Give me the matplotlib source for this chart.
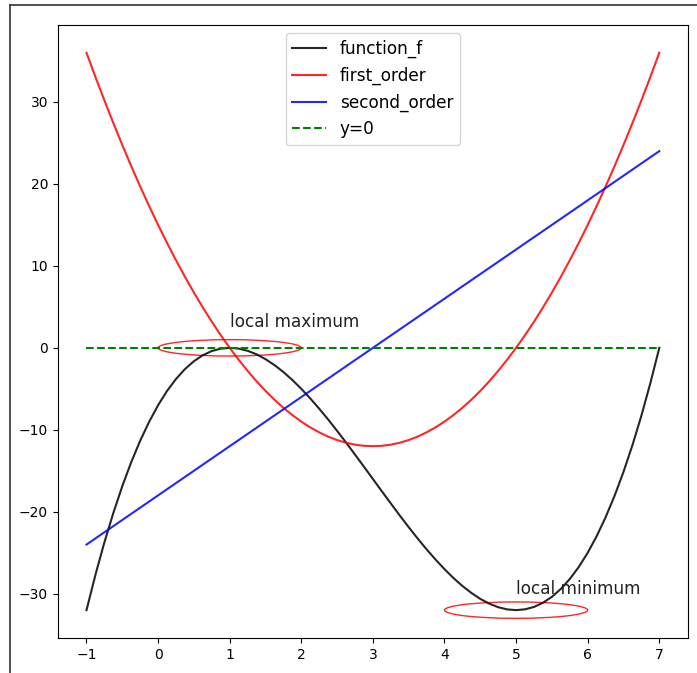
import matplotlib.pyplot as plt
import matplotlib.patches as mpatches
from matplotlib.lines import Line2D

# valeurs lues sur la figure, pas de 0.125
x = [-1, -0.875, -0.75, -0.625, -0.5, -0.375, -0.25, -0.125, 0, 0.125, 0.25, 0.375, 0.5, 0.625,
     0.75, 0.875, 1, 1.125, 1.25, 1.375, 1.5, 1.625, 1.75, 1.875, 2, 2.125, 2.25, 2.375, 2.5,
     2.625, 2.75, 2.875, 3, 3.125, 3.25, 3.375, 3.5, 3.625, 3.75, 3.875, 4, 4.125, 4.25, 4.375,
     4.5, 4.625, 4.75, 4.875, 5, 5.125, 5.25, 5.375, 5.5, 5.625, 5.75, 5.875, 6, 6.125, 6.25,
     6.375, 6.5, 6.625, 6.75, 6.875, 7]
function_f = [-32, -27.69, -23.73, -20.14, -16.88, -13.94, -11.33, -9.02, -7, -5.26, -3.8, -2.59,
              -1.63, -0.9, -0.39, -0.1, 0, -0.09, -0.36, -0.79, -1.38, -2.1, -2.95, -3.92, -5,
              -6.17, -7.42, -8.74, -10.13, -11.55, -13.02, -14.5, -16, -17.5, -18.98, -20.45,
              -21.88, -23.26, -24.58, -25.83, -27, -28.08, -29.05, -29.9, -30.63, -31.21, -31.64,
              -31.91, -32, -31.9, -31.61, -31.1, -30.38, -29.41, -28.2, -26.74, -25, -22.98,
              -20.67, -18.06, -15.13, -11.87, -8.27, -4.31, 0]
first_order = [36, 33.05, 30.19, 27.42, 24.75, 22.17, 19.69, 17.3, 15, 12.8, 10.69, 8.67, 6.75,
               4.92, 3.19, 1.55, 0, -1.45, -2.81, -4.08, -5.25, -6.33, -7.31, -8.2, -9, -9.7,
               -10.31, -10.83, -11.25, -11.58, -11.81, -11.95, -12, -11.95, -11.81, -11.58,
               -11.25, -10.83, -10.31, -9.7, -9, -8.2, -7.31, -6.33, -5.25, -4.08, -2.81, -1.45,
               0, 1.55, 3.19, 4.92, 6.75, 8.67, 10.69, 12.8, 15, 17.3, 19.69, 22.17, 24.75,
               27.42, 30.19, 33.05, 36]
second_x = [-1, 7]
second_order = [-24, 24]
zero_x = [-1, 7]
zero_y = [0, 0]

# extrema
extrema = [(1, 0), (5, -32)]
labels_extrema = ["local maximum", "local minimum"]
labels_pos = [(1, 2.5), (5, -30)]

fig, ax = plt.subplots(figsize=(6.97, 6.73), dpi=100)
fig.subplots_adjust(left=0.083, right=0.987, top=0.963, bottom=0.052)

ax.plot(x, function_f, color='black', alpha=0.85, label='function_f')
ax.plot(x, first_order, color='red', alpha=0.85, label='first_order')
ax.plot(second_x, second_order, color='blue', alpha=0.85, label='second_order')
ax.plot(zero_x, zero_y, 'g--', label='y=0')

for (cx, cy), lab, (tx, ty) in zip(extrema, labels_extrema, labels_pos):
    # add_artist : les ellipses ne changent pas les limites
    ax.add_artist(mpatches.Ellipse((cx, cy), 2, 2, fill=False, edgecolor='red', alpha=0.85))
    ax.text(tx, ty, lab, fontsize=12.2, color='#222222')

ax.legend(loc='upper center', fontsize=12.2)

# cadre de la sortie
fig.add_artist(Line2D([0.0143, 0.0143], [0, 0.993], color='#333333', lw=1.2))
fig.add_artist(Line2D([0.0143, 1], [0.993, 0.993], color='#333333', lw=1.2))

fig.savefig('out.png', dpi=100)
